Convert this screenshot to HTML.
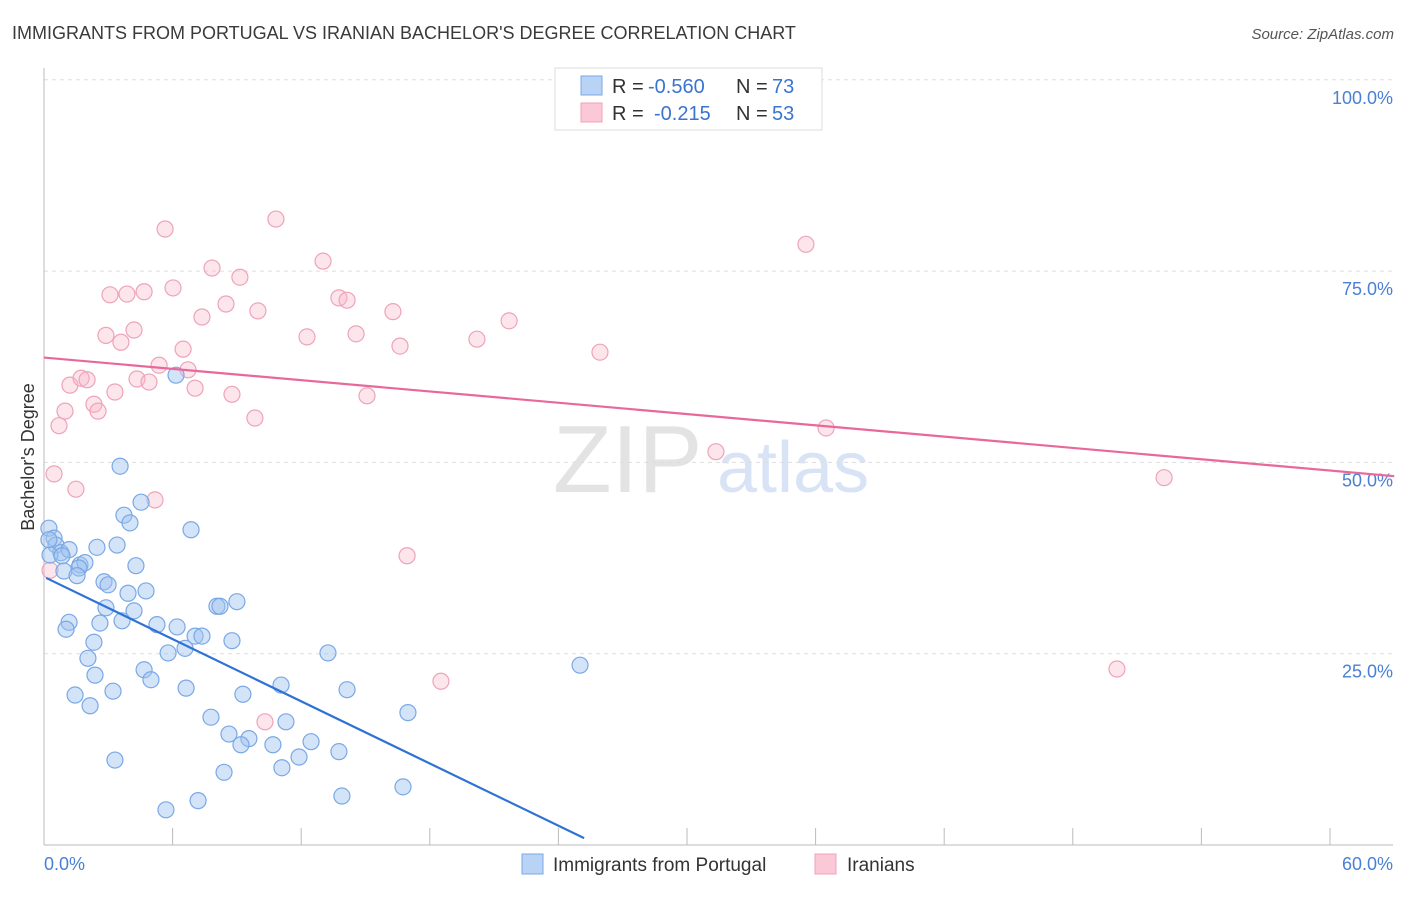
<!DOCTYPE html>
<html><head><meta charset="utf-8"><style>
body{margin:0;background:#fff;font-family:"Liberation Sans",sans-serif;}
svg text{font-family:"Liberation Sans",sans-serif;}
</style></head><body>
<svg id="chart" width="1406" height="892" xmlns="http://www.w3.org/2000/svg">
<text x="12" y="39" font-size="18" fill="#3a3a3a">IMMIGRANTS FROM PORTUGAL VS IRANIAN BACHELOR'S DEGREE CORRELATION CHART</text>
<text x="1394" y="39" font-size="15" fill="#555" text-anchor="end" font-style="italic">Source: ZipAtlas.com</text>
<text x="553" y="492" font-size="96" fill="#ddd" font-family="Liberation Serif" opacity="0.8">ZIP</text>
<text x="717" y="492" font-size="72" fill="#c8daf2" opacity="0.7">atlas</text>
<g id="grid"></g><g id="marks"></g>
<text transform="translate(34,457) rotate(-90)" font-size="18" fill="#333" text-anchor="middle">Bachelor's Degree</text>
<g>
<rect x="555" y="68" width="267" height="62" fill="#fff" stroke="#ddd"/>
<rect x="581" y="76" width="21" height="19" fill="#b8d3f5" stroke="#7aa8e6"/>
<rect x="581" y="103" width="21" height="19" fill="#fbc8d7" stroke="#f0a0b8"/>
<text x="612" y="93" font-size="20" fill="#333">R =</text>
<text x="648" y="93" font-size="20" fill="#3b74cf">-0.560</text>
<text x="736" y="93" font-size="20" fill="#333">N =</text>
<text x="772" y="93" font-size="20" fill="#3b74cf">73</text>
<text x="612" y="120" font-size="20" fill="#333">R =</text>
<text x="654" y="120" font-size="20" fill="#3b74cf">-0.215</text>
<text x="736" y="120" font-size="20" fill="#333">N =</text>
<text x="772" y="120" font-size="20" fill="#3b74cf">53</text>
</g>
<g>
<rect x="522" y="854" width="21" height="20" fill="#b8d3f5" stroke="#7aa8e6"/>
<text x="553" y="871" font-size="19" fill="#333">Immigrants from Portugal</text>
<rect x="815" y="854" width="21" height="20" fill="#fbc8d7" stroke="#f0a0b8"/>
<text x="847" y="871" font-size="19" fill="#333">Iranians</text>
</g>
</svg>
<script>
const blueX=[6.16,3.55,4.53,3.73,4.01,6.86,0.23,0.47,0.56,0.79,1.17,2.47,3.41,0.28,0.84,1.68,1.91,1.63,0.93,1.54,4.29,2.80,2.99,4.76,3.92,2.89,4.20,1.17,1.03,2.61,3.64,5.27,6.21,7.05,7.37,6.58,2.33,8.07,8.21,9.00,8.77,5.79,2.05,4.67,2.38,4.99,6.63,3.22,1.45,9.28,2.15,14.14,13.25,11.06,7.79,11.29,16.98,25.01,8.63,9.56,9.19,10.68,12.46,11.90,13.76,11.10,8.40,3.31,7.19,5.69,13.90,16.75,0.23];
const blueY=[61.4,49.5,44.8,43.1,42.1,41.2,41.4,40.1,39.2,38.2,38.6,38.9,39.2,37.9,37.8,36.6,36.9,36.2,35.8,35.2,36.5,34.4,34.0,33.2,32.9,31.0,30.6,29.1,28.2,29.0,29.3,28.8,28.5,27.3,27.3,25.7,26.5,31.2,31.2,31.8,26.7,25.1,24.4,22.9,22.2,21.6,20.5,20.1,19.6,19.7,18.2,20.3,25.1,20.9,16.7,16.1,17.3,23.5,14.5,13.9,13.1,13.1,13.5,11.5,12.2,10.1,9.5,11.1,5.8,4.6,6.4,7.6,39.9];
const pinkX=[5.65,10.82,35.55,7.84,13.02,9.14,6.02,3.08,3.87,4.67,13.76,14.14,8.49,7.37,9.98,16.28,21.70,2.89,4.20,3.59,12.27,14.56,20.20,16.61,25.94,6.49,5.37,6.72,1.21,1.73,2.01,4.34,4.90,3.31,7.05,8.77,15.07,2.33,2.52,0.98,0.70,9.84,36.49,31.35,0.47,1.49,5.18,16.94,52.26,18.52,50.06,10.31,0.28];
const pinkY=[80.5,81.8,78.5,75.4,76.3,74.2,72.8,71.9,72.0,72.3,71.5,71.2,70.7,69.0,69.8,69.7,68.5,66.6,67.3,65.7,66.4,66.8,66.1,65.2,64.4,64.8,62.7,62.1,60.1,61.0,60.8,60.9,60.5,59.2,59.7,58.9,58.7,57.6,56.7,56.7,54.8,55.8,54.5,51.4,48.5,46.5,45.1,37.8,48.0,21.4,23.0,16.1,35.9];
const blueLine=[0.1,34.9,25.2,0.9];
const pinkLine=[0,63.7,63.0,48.2];
const yTicks=[100,75,50,25];
const yTickLabels=["100.0%","75.0%","50.0%","25.0%"];
const xTicks=[0,6,12,18,24,30,36,42,48,54,60];
const NS="http://www.w3.org/2000/svg";
const sx=v=>44+v*21.433, sy=v=>845-v*7.652;
function mk(t,a,p){const e=document.createElementNS(NS,t);for(const k in a)e.setAttribute(k,a[k]);p.appendChild(e);return e;}
const g=document.getElementById('grid'),m=document.getElementById('marks');
yTicks.forEach((v,i)=>{
 const l=mk('line',{x1:44,x2:1393,y1:sy(v),y2:sy(v),stroke:'#ddd','stroke-dasharray':'4,4'},g);
 
 
 const t=mk('text',{x:1393,y:sy(v)+24,'font-size':18,fill:'#4a80d4','text-anchor':'end'},g);
 t.textContent=yTickLabels[i];
 
 
});
const ax=mk('line',{x1:44,x2:1393,y1:845,y2:845,stroke:'#bbb'},g);


const ay=mk('line',{x1:44,x2:44,y1:68,y2:845,stroke:'#bbb'},g);


xTicks.forEach(v=>{const l=mk('line',{x1:sx(v),x2:sx(v),y1:828,y2:845,stroke:'#bbb'},g);
 
 });
[["0.0%",44,'start'],["60.0%",1393,'end']].forEach(a=>{const t=mk('text',{x:a[1],y:870,'font-size':18,fill:'#4a80d4','text-anchor':a[2]},g);t.textContent=a[0];
 
 });
function pts(X,Y,fill,stroke,name){X.forEach((x,i)=>{const c=mk('circle',{cx:sx(x),cy:sy(Y[i]),r:8,fill:fill,stroke:stroke,'stroke-width':1.2},m);
 
 });}
pts(pinkX,pinkY,'rgba(248,180,200,0.35)','#eea3ba','point-iranians');
pts(blueX,blueY,'rgba(160,195,240,0.45)','#7aa8e6','point-portugal');
const bl=mk('line',{x1:sx(blueLine[0]),y1:sy(blueLine[1]),x2:sx(blueLine[2]),y2:sy(blueLine[3]),stroke:'#2f72d6','stroke-width':2.2},m);


const pl=mk('line',{x1:sx(pinkLine[0]),y1:sy(pinkLine[1]),x2:sx(pinkLine[2]),y2:sy(pinkLine[3]),stroke:'#e8689a','stroke-width':2.2},m);


</script>
</body></html>
